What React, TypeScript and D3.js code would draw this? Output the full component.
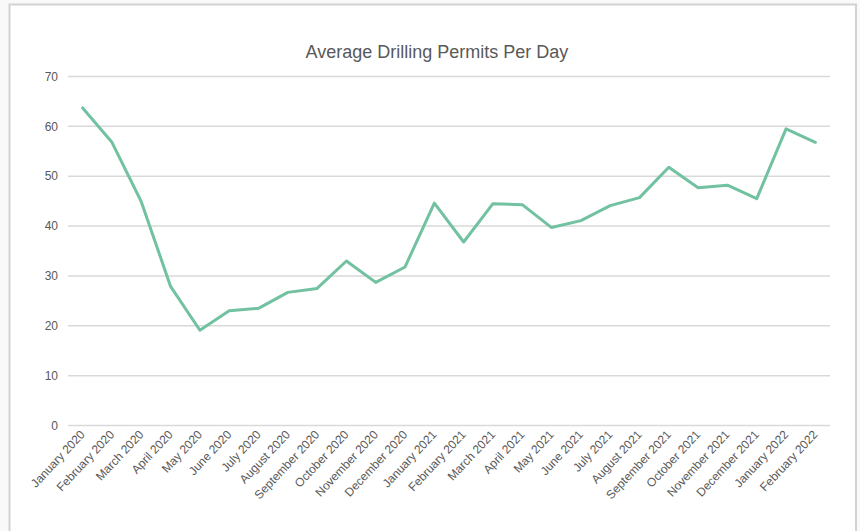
import React from "react";
import * as d3 from "d3";

const categories = [
  "January 2020", "February 2020", "March 2020", "April 2020", "May 2020", "June 2020",
  "July 2020", "August 2020", "September 2020", "October 2020", "November 2020", "December 2020",
  "January 2021", "February 2021", "March 2021", "April 2021", "May 2021", "June 2021",
  "July 2021", "August 2021", "September 2021", "October 2021", "November 2021", "December 2021",
  "January 2022", "February 2022",
];
const permits = [
  63.7, 56.8, 44.9, 27.9, 19.1, 23.0, 23.5, 26.7, 27.5, 33.0, 28.7, 31.8,
  44.6, 36.8, 44.5, 44.3, 39.7, 41.1, 44.1, 45.7, 51.8, 47.7, 48.2, 45.5,
  59.5, 56.8,
];
const yTicks = [0, 10, 20, 30, 40, 50, 60, 70];
const title = "Average  Drilling Permits Per Day";

const W = 860;
const H = 531;
const FONT = "'Liberation Sans', Arial, sans-serif";

export default function App() {
  const x = d3.scaleBand<string>().domain(categories).range([68, 830]);
  const y = d3.scaleLinear().domain([0, 70]).range([425.5, 76.5]);
  const line = d3
    .line<number>()
    .x((_, i) => (x(categories[i]) as number) + x.bandwidth() / 2)
    .y((d) => y(d));

  return (
    <svg
      width={W}
      height={H}
      style={{ position: "absolute", left: 0, top: 0 }}
      fontFamily={FONT}
    >
      <rect x={0} y={0} width={W} height={H} fill="#f9f9f9" />
      <rect x={9.5} y={4.5} width={846.5} height={540} fill="#ffffff" stroke="#d2d2d2" strokeWidth={2} />
      <text x={437} y={58} textAnchor="middle" fontSize={18} fill="#595959">
        {title}
      </text>
      {yTicks.map((t) => (
        <g key={t}>
          <line x1={68} x2={830} y1={y(t)} y2={y(t)} stroke="#d9d9d9" strokeWidth={1.5} />
          <text x={58} y={y(t)} dy="0.35em" textAnchor="end" fontSize={12} fill="#595959">
            {t}
          </text>
        </g>
      ))}
      {categories.map((c) => {
        const cx = (x(c) as number) + x.bandwidth() / 2;
        return (
          <text
            key={c}
            transform={`translate(${cx + 3},${435}) rotate(-47)`}
            textAnchor="end"
            fontSize={12}
            fill="#595959"
          >
            {c}
          </text>
        );
      })}
      <path
        d={line(permits) || ""}
        fill="none"
        stroke="#72c1a1"
        strokeWidth={3}
        strokeLinejoin="round"
        strokeLinecap="round"
      />
    </svg>
  );
}
